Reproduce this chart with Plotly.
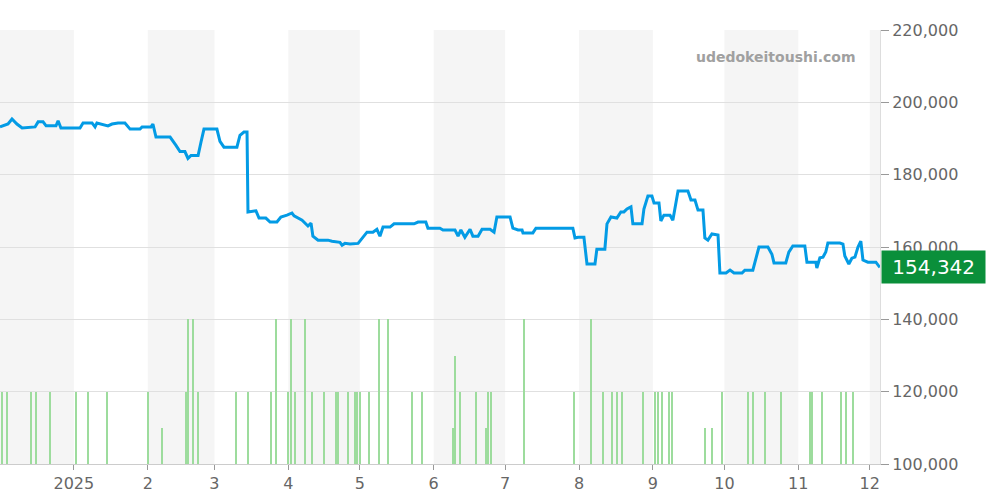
import plotly.graph_objects as go
import pandas as pd

start = pd.Timestamp("2024-12-01")
# price line: day offsets (read scale) and prices
line_days = [0,3.4,5.1,7.2,9.4,14.9,16.2,18.3,19.6,23.8,24.7,25.9,34,35.3,39.1,40.4,41.2,44.2,45.9,47.6,50.2,53.1,55.3,59.5,60.4,64.2,65,66.3,72.3,74.8,76.5,78.6,79.9,81.2,84.2,85.4,86.7,92.2,93.5,95.2,100.7,102,103.7,105,105.4,108.8,110.1,113,114.8,117.7,119.4,122,124.1,125,128.4,130.9,132.2,133,135.2,139.4,141.1,144.5,145.4,146.6,148.8,152.2,154.3,156,158.5,160.2,161.5,162.8,165.8,167.5,176,177.7,181,181.9,187,188.3,193.4,194.7,195.9,197.6,199.8,201,203.2,204.9,208.3,210,211.2,216.8,218,220.2,221.9,222.3,226.5,227.8,243.5,244.4,245.7,248.2,249.5,252.9,253.7,257.1,258,259.7,262.2,263.9,265.2,266.5,268.2,269,272.9,273.7,275.4,277.1,278,280.1,280.9,282.2,284.8,286,288.2,292.4,293.7,295.4,296.7,298.8,299.6,300.9,302.6,305.2,306,308.6,310.3,312,315.4,316.6,320,321.3,322.6,326.4,328.1,329,334,335.3,337,342.1,343,346.8,347.2,348.5,349.8,351,351.9,357,358.3,359.1,360.8,362.1,363.4,364.7,365.9,366.8,368.9,372.3,374]
line_vals = [193.2,194.0,195.4,194.0,192.9,193.2,194.6,194.6,193.5,193.5,194.9,192.9,192.9,194.3,194.3,193.2,194.3,193.7,193.5,194.0,194.3,194.3,192.6,192.6,193.2,193.2,194,190.4,190.4,188.1,186.4,186.4,184.5,185.3,185.3,188.9,192.6,192.6,189.2,187.6,187.6,190.9,191.8,191.8,169.7,170,168,168,166.9,166.9,168.3,168.8,169.4,168.6,167.4,165.8,166.6,163,161.9,161.9,161.6,161.3,160.5,161,160.8,161,162.7,164.1,164.1,164.9,163,165.5,165.5,166.4,166.4,166.9,166.9,165.2,165.2,164.7,164.7,163,164.7,162.7,164.9,163,163,164.9,164.9,164.1,168.3,168.3,165.2,164.7,164.7,163.9,163.9,165.2,165.2,162.5,162.7,162.7,155.3,155.3,159.4,159.4,166.4,168.3,168,169.7,169.7,170.5,171.1,166.4,166.4,170.5,174.1,174.1,172.2,172.2,167.2,168.8,168.8,167.4,175.5,175.5,173,173,170.2,170.2,162.5,161.9,163.6,163.3,152.8,152.8,153.6,152.8,152.8,153.6,153.6,156.7,160,160,158,155.6,155.6,158.6,160.3,160.3,155.8,155.8,154.2,157,157.2,158.6,161.1,161.1,160.8,157.5,155.3,156.9,157.2,160,161.6,156.4,155.8,155.8,154.342]
SCALE = 0.9873  # day-reading calibration
vol_days = [1,3,13,15,21,32,37,45,62,68,78,79,81,83,99,104,114,116,121,122,124,128,131,136,141,142,146,149,150,151,155,159,163,173,177,190,191,193,200,204,205,206,220,241,248,253,257,259,261,270,275,276,278,281,282,296,299,303,314,316,321,328,340,341,345,353,355,358]
vol_vals = [1,1,1,1,1,1,1,1,1,0.5,1,2,2,1,1,1,1,2,1,2,1,2,1,1,1,1,1,1,1,1,1,2,2,1,1,0.5,1.5,1,1,0.5,1,1,2,1,2,1,1,1,1,1,1,1,1,1,1,0.5,0.5,1,1,1,1,1,1,1,1,1,1,1]
month_ticks = ["2025-01-01"] + [f"2025-{m:02d}-01" for m in range(2, 13)]
month_labels = ["2025"] + [str(m) for m in range(2, 13)]
last_price = 154342

line_x = [start + pd.Timedelta(days=d * SCALE) for d in line_days]
line_y = [v * 1000 for v in line_vals]
vol_x = [start + pd.Timedelta(days=d) for d in vol_days]

fig = go.Figure()
fig.add_trace(go.Bar(x=vol_x, y=vol_vals, yaxis="y2", marker_color="#9ddc9d",
                     marker_line_width=0, width=0.55 * 86400000, hoverinfo="skip"))
fig.add_trace(go.Scatter(x=line_x, y=line_y, mode="lines",
                         line=dict(color="#039be5", width=3)))

bands = ["2024-12-01", "2025-02-01", "2025-04-01", "2025-06-01", "2025-08-01", "2025-10-01", "2025-12-01"]
for b in bands:
    s = pd.Timestamp(b)
    e = s + pd.offsets.MonthBegin(1)
    fig.add_shape(type="rect", xref="x", yref="paper", x0=s, x1=e, y0=0, y1=1,
                  fillcolor="#f5f5f5", line_width=0, layer="below")

fig.add_annotation(x=1.0, xref="paper", xanchor="left", y=last_price, yref="y",
                   text=f"&nbsp;{last_price:,}&nbsp;", showarrow=False,
                   font=dict(color="white", size=20, family="DejaVu Sans"),
                   bgcolor="#0a8f3a", borderpad=4, xshift=1)
fig.add_annotation(x=0.975, xref="paper", y=0.96, yref="paper", xanchor="right", yanchor="top",
                   text="<b>udedokeitoushi.com</b>", showarrow=False,
                   font=dict(color="#a0a0a0", size=14, family="DejaVu Sans"))

fig.update_layout(
    width=1000, height=500, margin=dict(l=0, r=120, t=30, b=36),
    plot_bgcolor="white", paper_bgcolor="white", showlegend=False, bargap=0,
    font=dict(family="DejaVu Sans", color="#666"),
    xaxis=dict(range=[start, start + pd.Timedelta(days=369.3)], tickvals=month_ticks,
               ticktext=month_labels, ticks="outside", ticklen=5, tickcolor="#999",
               showgrid=False, showline=True, linecolor="#ccc", tickfont=dict(size=16),
               automargin=False),
    yaxis=dict(side="right", range=[100000, 220000], dtick=20000, tickformat=",",
               ticks="outside", ticklen=8, tickcolor="#999", gridcolor="#e0e0e0",
               showline=True, linecolor="#ddd", tickfont=dict(size=16), zeroline=False,
               automargin=False),
    yaxis2=dict(overlaying="y", range=[0, 6], visible=False),
)
html = fig.to_html(include_plotlyjs=True, full_html=True, config={"displayModeBar": False})
html = html.replace("<body>", '<body style="margin:0">', 1)
with open("out.html", "w", encoding="utf-8") as f:
    f.write(html)
